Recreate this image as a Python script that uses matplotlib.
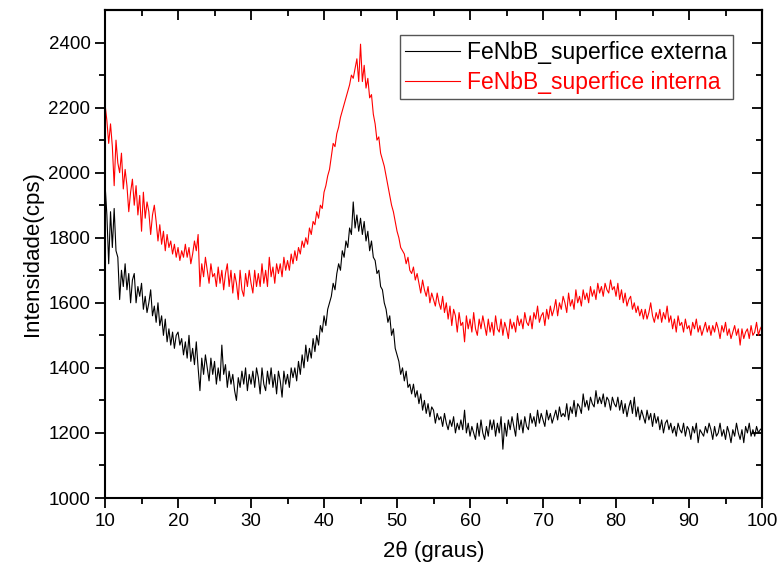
import numpy as np
import matplotlib
matplotlib.use("Agg")
import matplotlib.pyplot as plt

plt.rcParams['font.family'] = ['Liberation Sans', 'DejaVu Sans']

# 2theta scan grid (step 0.25 deg)
two_theta = np.arange(10, 100.001, 0.25)

externa = [
    1965, 1870, 1720, 1880, 1770, 1890, 1760, 1740, 1610, 1700, 1650, 1720,
    1640, 1690, 1600, 1670, 1690, 1600, 1650, 1620, 1660, 1580, 1620, 1570,
    1600, 1640, 1560, 1590, 1540, 1600, 1530, 1560, 1500, 1550, 1480, 1520,
    1470, 1510, 1460, 1500, 1510, 1470, 1490, 1440, 1480, 1430, 1500, 1420,
    1460, 1410, 1480, 1400, 1330, 1430, 1380, 1440, 1400, 1360, 1430, 1380,
    1420, 1350, 1400, 1360, 1470, 1380, 1410, 1340, 1390, 1350, 1380, 1330,
    1300, 1370, 1340, 1390, 1350, 1400, 1330, 1380, 1350, 1390, 1340, 1400,
    1370, 1320, 1400, 1350, 1330, 1390, 1350, 1400, 1340, 1380, 1320, 1390,
    1360, 1310, 1390, 1350, 1380, 1340, 1400, 1370, 1400, 1360, 1420, 1380,
    1440, 1400, 1470, 1420, 1460, 1430, 1490, 1450, 1500, 1470, 1530, 1510,
    1560, 1530, 1580, 1600, 1620, 1660, 1640, 1690, 1720, 1700, 1760, 1740,
    1790, 1770, 1830, 1810, 1910, 1830, 1870, 1820, 1860, 1810, 1850, 1790,
    1820, 1760, 1790, 1740, 1730, 1690, 1700, 1650, 1640, 1600, 1580, 1540,
    1560, 1500, 1520, 1460, 1440, 1420, 1380, 1400, 1360, 1390, 1340, 1350,
    1320, 1350, 1310, 1330, 1290, 1320, 1270, 1300, 1260, 1290, 1250, 1280,
    1270, 1230, 1260, 1240, 1250, 1220, 1260, 1230, 1210, 1240, 1220, 1250,
    1200, 1230, 1210, 1240, 1210, 1270, 1200, 1230, 1190, 1220, 1200, 1180,
    1230, 1190, 1240, 1200, 1180, 1220, 1190, 1240, 1210, 1240, 1190, 1230,
    1200, 1250, 1150, 1230, 1190, 1240, 1210, 1250, 1220, 1190, 1260, 1210,
    1240, 1200, 1250, 1220, 1210, 1260, 1230, 1250, 1220, 1270, 1230, 1260,
    1240, 1220, 1270, 1240, 1260, 1230, 1250, 1270, 1240, 1280, 1250, 1260,
    1250, 1290, 1240, 1280, 1260, 1300, 1250, 1290, 1280, 1260, 1320, 1280,
    1300, 1270, 1310, 1290, 1280, 1330, 1290, 1310, 1290, 1320, 1280, 1310,
    1300, 1270, 1310, 1290, 1280, 1310, 1270, 1300, 1260, 1290, 1250, 1280,
    1300, 1260, 1310, 1250, 1280, 1240, 1270, 1250, 1230, 1270, 1240, 1260,
    1220, 1260, 1230, 1250, 1210, 1240, 1200, 1230, 1240, 1210, 1230, 1200,
    1220, 1190, 1230, 1210, 1200, 1230, 1190, 1220, 1210, 1180, 1220, 1200,
    1230, 1170, 1210, 1200, 1190, 1220, 1200, 1230, 1210, 1180, 1220, 1190,
    1200, 1230, 1190, 1210, 1180, 1220, 1200, 1170, 1210, 1190, 1230, 1200,
    1180, 1210, 1170, 1220, 1200, 1230, 1190, 1210, 1190, 1220, 1200, 1210,
    1215,
]

interna = [
    2210, 2160, 2090, 2150, 2080, 1960, 2100, 2030, 2000, 2060, 1950, 2010,
    1960, 1880, 1940, 1980, 1900, 1960, 1870, 1930, 1820, 1940, 1860, 1910,
    1880, 1810, 1870, 1900, 1850, 1790, 1840, 1780, 1820, 1760, 1810, 1770,
    1790, 1750, 1780, 1740, 1770, 1730, 1760, 1740, 1780, 1740, 1770, 1720,
    1750, 1790, 1760, 1810, 1650, 1720, 1680, 1740, 1700, 1660, 1720, 1680,
    1690, 1650, 1710, 1660, 1700, 1640, 1690, 1720, 1650, 1700, 1630, 1690,
    1660, 1610, 1700, 1640, 1620, 1690, 1650, 1700, 1660, 1630, 1700, 1650,
    1690, 1650, 1720, 1660, 1700, 1650, 1740, 1680, 1710, 1660, 1720, 1690,
    1720, 1680, 1740, 1700, 1730, 1700, 1750, 1720, 1760, 1730, 1770, 1750,
    1790, 1770, 1800, 1780, 1830, 1810, 1850, 1840, 1880, 1860, 1900, 1890,
    1940, 1960, 1990, 2010, 2050, 2090, 2080, 2120, 2140, 2170, 2190, 2210,
    2230, 2250, 2270, 2300, 2290, 2320, 2350, 2280, 2395, 2280, 2330, 2260,
    2290, 2230, 2240, 2180, 2150, 2100, 2110, 2060, 2040, 2020, 1990, 1960,
    1930, 1900, 1880, 1850, 1820, 1800, 1770, 1760, 1750, 1720, 1740, 1700,
    1690, 1710, 1670, 1690, 1660, 1630, 1670, 1640, 1620, 1650, 1600, 1630,
    1610, 1590, 1630, 1600, 1580, 1620, 1570, 1600, 1550, 1590, 1530, 1580,
    1560, 1510, 1570, 1530, 1540, 1480, 1560, 1520, 1550, 1510, 1570, 1520,
    1500, 1550, 1520, 1560, 1530, 1500, 1550, 1510, 1540, 1500, 1560, 1520,
    1510, 1550, 1500, 1540, 1520, 1490, 1550, 1520, 1540, 1510, 1560, 1530,
    1550, 1520, 1570, 1540, 1530, 1560, 1520, 1570, 1550, 1590, 1540, 1560,
    1570, 1530, 1580, 1550, 1590, 1560, 1580, 1610, 1560, 1600, 1580, 1620,
    1600, 1570, 1630, 1590, 1610, 1580, 1640, 1600, 1620, 1590, 1640, 1610,
    1630, 1600, 1650, 1620, 1640, 1610, 1660, 1630, 1650, 1620, 1660, 1640,
    1630, 1670, 1640, 1650, 1620, 1660, 1610, 1640, 1600, 1630, 1590, 1610,
    1620, 1580, 1600, 1570, 1590, 1560, 1580, 1550, 1580, 1550, 1570, 1600,
    1560, 1540, 1570, 1550, 1580, 1540, 1570, 1550, 1590, 1540, 1560, 1520,
    1550, 1510, 1560, 1530, 1540, 1510, 1550, 1520, 1530, 1500, 1540, 1520,
    1550, 1510, 1530, 1500, 1520, 1540, 1510, 1530, 1500, 1530, 1510, 1540,
    1520, 1490, 1530, 1510, 1540, 1500, 1520, 1490, 1510, 1530, 1500, 1520,
    1470, 1520, 1490, 1510, 1520, 1490, 1530, 1500, 1510, 1540, 1500, 1520,
    1530,
]

fig = plt.figure(figsize=(7.81, 5.75), dpi=100)
ax = fig.add_axes([0.1345, 0.1339, 0.8412, 0.8487])

ax.plot(two_theta, externa, color='black', lw=0.8, label='FeNbB_superfice externa')
ax.plot(two_theta, interna, color='red', lw=0.8, label='FeNbB_superfice interna')

ax.set_xlim(10, 100)
ax.set_ylim(1000, 2500)
ax.set_xticks(np.arange(10, 101, 10))
ax.set_xticks(np.arange(15, 100, 10), minor=True)
ax.set_yticks(np.arange(1000, 2401, 200))
ax.set_yticks(np.arange(1100, 2500, 200), minor=True)

ax.tick_params(which='both', direction='out', width=1.3, labelsize=13.5,
               top=False, right=False)
ax.tick_params(which='major', length=7)
ax.tick_params(which='minor', length=4)
for s in ax.spines.values():
    s.set_linewidth(1.5)

# mirrored ticks pointing inwards on top and right
top = ax.secondary_xaxis('top')
top.set_xticks(np.arange(10, 101, 10))
top.set_xticks(np.arange(15, 100, 10), minor=True)
top.tick_params(which='both', direction='in', width=1.3, labeltop=False)
top.tick_params(which='major', length=7)
top.tick_params(which='minor', length=4)
top.spines['top'].set_linewidth(1.5)

right = ax.secondary_yaxis('right')
right.set_yticks(np.arange(1000, 2401, 200))
right.set_yticks(np.arange(1100, 2500, 200), minor=True)
right.tick_params(which='both', direction='in', width=1.3, labelright=False)
right.tick_params(which='major', length=7)
right.tick_params(which='minor', length=4)
right.spines['right'].set_linewidth(1.5)

ax.set_xlabel('2θ (graus)', fontsize=16, labelpad=8)
ax.set_ylabel('Intensidade(cps)', fontsize=16, labelpad=4)

leg = ax.legend(loc='upper right', bbox_to_anchor=(733 / 781, 1 - 35 / 575),
                bbox_transform=fig.transFigure, fontsize=16.5, frameon=True,
                fancybox=False, edgecolor='#555555', framealpha=1,
                handlelength=2.4, handletextpad=0.3, borderpad=0.25,
                labelspacing=0.3, borderaxespad=0)
leg.get_frame().set_linewidth(1.0)
for txt, line in zip(leg.get_texts(), leg.get_lines()):
    txt.set_color(line.get_color())

fig.savefig('out.png', dpi=100)
